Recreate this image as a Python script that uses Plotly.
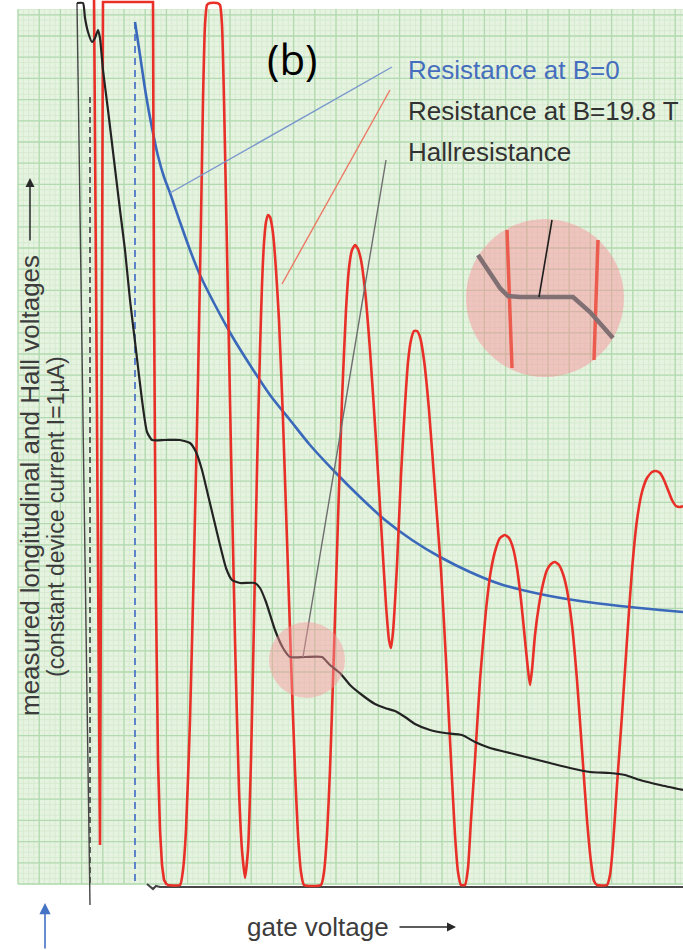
import numpy as np
import plotly.graph_objects as go

W, H = 683, 950

# ---------------- measured curves (sheet units: x = gate voltage, y = depth on sheet) -------------
# longitudinal resistance at B = 19.8 T
rxx_x = [94, 100, 103, 153, 154, 156, 158, 160, 162, 164, 167, 180, 183, 186, 190, 194, 198,
         201, 203, 205, 207, 210, 217, 220, 222, 224, 227, 231, 235, 239, 242, 245, 248, 251,
         254, 257, 260, 262, 264, 266, 268, 270, 272, 274, 276, 279, 283, 287, 291, 295, 298,
         301, 304, 321, 324, 327, 330, 334, 338, 342, 346, 349, 352, 355, 358, 361, 365, 370,
         376, 382, 386, 389, 391, 393, 397, 401, 405, 408, 411, 414, 417, 420, 424, 429, 435,
         441, 446, 451, 455, 458, 461, 465, 468, 471, 475, 480, 486, 491, 496, 500, 505, 509,
         513, 517, 521, 525, 528, 530, 532, 535, 539, 543, 547, 551, 555, 559, 563, 567, 572,
         577, 582, 587, 591, 594, 597, 607, 610, 613, 617, 622, 627, 632, 637, 642, 647, 652,
         656, 660, 664, 668, 672, 676, 680, 683]
rxx_y = [-5, 845, 2, 2, 300, 600, 760, 830, 865, 880, 885, 885, 870, 830, 720, 560, 380,
         220, 100, 25, 5, 3, 3, 5, 25, 100, 250, 450, 640, 790, 850, 878, 850, 760,
         620, 470, 350, 285, 243, 222, 215, 217, 226, 243, 270, 320, 420, 540, 660, 770, 835,
         872, 885, 885, 872, 835, 770, 650, 520, 400, 310, 268, 250, 245, 249, 260, 290, 350,
         440, 540, 605, 640, 648, 632, 565, 475, 405, 362, 340, 331, 331, 337, 360, 410, 490,
         570, 660, 760, 835, 872, 885, 885, 868, 820, 760, 680, 610, 570, 548, 538, 535, 538,
         548, 568, 600, 640, 670, 685, 670, 635, 605, 584, 570, 564, 562, 565, 574, 590, 625,
         680, 750, 820, 862, 881, 885, 885, 875, 845, 785, 715, 640, 570, 520, 492, 478, 472,
         471, 473, 480, 490, 500, 506, 507, 506]
RXX_SHARP = 11  # the first, off-scale excursions are drawn with straight strokes

# resistance at B = 0
r0_x = [135, 140, 146, 152, 158, 164, 170, 180, 190, 200, 215, 232, 250, 270, 290, 310, 335,
        360, 385, 412, 440, 470, 500, 540, 580, 620, 660, 683]
r0_y = [22, 55, 95, 128, 156, 177, 193, 222, 250, 275, 305, 336, 365, 395, 420, 445, 472,
        497, 520, 540, 557, 572, 584, 594, 601, 606, 610, 612]

# Hall resistance
hall_x = [77, 83, 85, 88, 92, 95, 98, 100, 103, 108, 114, 120, 125, 130, 136, 142, 147, 152,
          165, 180, 190, 196, 202, 208, 214, 220, 226, 232, 240, 255, 260, 266, 275, 283, 290,
          305, 322, 330, 340, 350, 362, 375, 385, 395, 405, 415, 430, 445, 462, 475, 490, 510,
          530, 550, 570, 590, 610, 625, 640, 660, 683]
hall_y = [3, 3, 18, 32, 42, 38, 30, 38, 70, 110, 160, 210, 250, 300, 350, 400, 432, 440,
          440, 440, 443, 452, 470, 495, 520, 545, 568, 580, 583, 583, 588, 602, 630, 648, 657,
          657, 657, 665, 673, 685, 695, 704, 708, 711, 717, 724, 730, 733, 735, 742, 748, 753,
          758, 763, 768, 772, 773, 775, 780, 785, 790]
hall_rise_x = [90, 77]
hall_rise_y = [905, 3]

# reference markers
gate_zero_x, gate_zero_y = [90, 90], [97, 885]
onset_x, onset_y = [135, 135], [22, 885]
base_x = [147, 150, 153, 156, 160, 683]
base_y = [884, 887, 889, 886, 887, 887]

# magnified view of the Hall plateau
zoom_hall_x = [478, 500, 508, 520, 573, 590, 613]
zoom_hall_y = [255, 288, 296, 297, 297, 312, 338]
zoom_rxx1_x, zoom_rxx1_y = [507, 512], [230, 368]
zoom_rxx2_x, zoom_rxx2_y = [598, 594], [240, 360]
zoom_ptr_x, zoom_ptr_y = [552, 539], [220, 297]

# label leader lines
lead_r0_x, lead_r0_y = [392, 170], [67, 193]
lead_rxx_x, lead_rxx_y = [390, 282], [90, 284]
lead_hall_x, lead_hall_y = [386, 303], [160, 657]

# ---------------- sheet geometry ----------------
SHEET = (18, 9, 683, 884)  # x0, y0, x1, y1
MINOR = 5.3
MAJOR = 21.2

fig = go.Figure()


def grid_path(step):
    x0, y0, x1, y1 = SHEET
    parts = []
    for gx in np.arange(x0, x1 + 0.1, step):
        parts.append(f"M{gx:.2f},{y0} L{gx:.2f},{y1}")
    for gy in np.arange(y1, y0 - 0.1, -step):
        parts.append(f"M{x0},{gy:.2f} L{x1},{gy:.2f}")
    return " ".join(parts)


shapes = [
    dict(type="rect", xref="x", yref="y", x0=SHEET[0], y0=SHEET[1], x1=SHEET[2], y1=SHEET[3],
         fillcolor="rgb(230,243,224)", line=dict(width=0), layer="below"),
    dict(type="path", xref="x", yref="y", path=grid_path(MINOR),
         line=dict(color="rgb(214,235,208)", width=1), layer="below"),
    dict(type="path", xref="x", yref="y", path=grid_path(MAJOR),
         line=dict(color="rgb(178,218,176)", width=1.3), layer="below"),
    # magnifier
    dict(type="circle", xref="x", yref="y", x0=466, y0=219, x1=624, y1=377,
         fillcolor="rgba(250,140,150,0.45)", line=dict(width=0), layer="below"),
    # highlighted plateau
    dict(type="circle", xref="x", yref="y", x0=269, y0=622, x1=345, y1=698,
         fillcolor="rgba(250,150,155,0.45)", line=dict(width=0), layer="above"),
]


def line(x, y, color, width, dash="solid", shape="linear", smoothing=1.0):
    fig.add_trace(go.Scatter(x=x, y=y, mode="lines", hoverinfo="skip", showlegend=False,
                             line=dict(color=color, width=width, dash=dash, shape=shape,
                                       smoothing=smoothing)))


RED = "rgb(232,48,40)"
BLUE = "rgb(58,104,186)"
BLACK = "rgb(35,35,35)"

line(gate_zero_x, gate_zero_y, "rgb(60,60,60)", 1.6, dash="6px,4px")
line(onset_x, onset_y, "rgb(80,120,200)", 1.8, dash="7px,5px")
line(hall_rise_x, hall_rise_y, "rgb(70,70,70)", 1.4)
line(base_x, base_y, "rgb(70,70,70)", 2.2)
line(r0_x, r0_y, BLUE, 2.6, shape="spline", smoothing=0.8)
line(rxx_x[:RXX_SHARP], rxx_y[:RXX_SHARP], RED, 2.6)
line(rxx_x[RXX_SHARP - 1:], rxx_y[RXX_SHARP - 1:], RED, 2.6, shape="spline", smoothing=0.5)
line(hall_x, hall_y, BLACK, 2.2, shape="spline", smoothing=0.5)

line(lead_r0_x, lead_r0_y, "rgb(120,150,205)", 1.4)
line(lead_rxx_x, lead_rxx_y, "rgb(236,120,100)", 1.4)
line(lead_hall_x, lead_hall_y, "rgb(110,110,110)", 1.4)

line(zoom_rxx1_x, zoom_rxx1_y, "rgb(236,92,78)", 3.5)
line(zoom_rxx2_x, zoom_rxx2_y, "rgb(236,92,78)", 3.5)
line(zoom_hall_x, zoom_hall_y, "rgb(128,112,115)", 4.5)
line(zoom_ptr_x, zoom_ptr_y, "rgb(30,30,30)", 1.6)

LABEL_FONT = "Liberation Sans, Arial, sans-serif"
annotations = [
    dict(x=292, y=58, text="(b)", showarrow=False, xref="x", yref="y",
         font=dict(family="Open Sans, sans-serif", size=42, color="black")),
    dict(x=406, y=70, text="Resistance at B=0", showarrow=False, xanchor="left", xref="x",
         yref="y", font=dict(family=LABEL_FONT, size=26, color="rgb(70,110,190)")),
    dict(x=406, y=111, text="Resistance at B=19.8 T", showarrow=False, xanchor="left",
         xref="x", yref="y", font=dict(family=LABEL_FONT, size=26, color="rgb(50,50,50)")),
    dict(x=406, y=152, text="Hallresistance", showarrow=False, xanchor="left", xref="x",
         yref="y", font=dict(family=LABEL_FONT, size=26, color="rgb(50,50,50)")),
    dict(x=30, y=486, text="measured longitudinal and Hall voltages", showarrow=False,
         textangle=-90, xref="x", yref="y",
         font=dict(family=LABEL_FONT, size=26, color="rgb(60,60,60)")),
    dict(x=56, y=517, text="(constant device current I=1µA)", showarrow=False,
         textangle=-90, xref="x", yref="y",
         font=dict(family=LABEL_FONT, size=23, color="rgb(60,60,60)")),
    dict(x=318, y=927, text="gate voltage", showarrow=False, xref="x", yref="y",
         font=dict(family=LABEL_FONT, size=26, color="rgb(60,60,60)")),
    # axis arrows
    dict(x=30, y=178, ax=30, ay=242, xref="x", yref="y", axref="x", ayref="y", text="",
         showarrow=True, arrowhead=2, arrowsize=1.2, arrowwidth=1.5,
         arrowcolor="rgb(40,40,40)"),
    dict(x=456, y=927, ax=398, ay=927, xref="x", yref="y", axref="x", ayref="y", text="",
         showarrow=True, arrowhead=2, arrowsize=1.2, arrowwidth=1.5,
         arrowcolor="rgb(40,40,40)"),
    dict(x=45, y=903, ax=45, ay=950, xref="x", yref="y", axref="x", ayref="y", text="",
         showarrow=True, arrowhead=2, arrowsize=1.4, arrowwidth=1.6,
         arrowcolor="rgb(68,114,196)"),
]

fig.update_layout(
    width=W, height=H, margin=dict(l=0, r=0, t=0, b=0),
    paper_bgcolor="white", plot_bgcolor="white",
    xaxis=dict(range=[0, W], visible=False, fixedrange=True),
    yaxis=dict(range=[H, 0], visible=False, fixedrange=True),
    shapes=shapes, annotations=annotations,
)

fig.write_html("out.html")
